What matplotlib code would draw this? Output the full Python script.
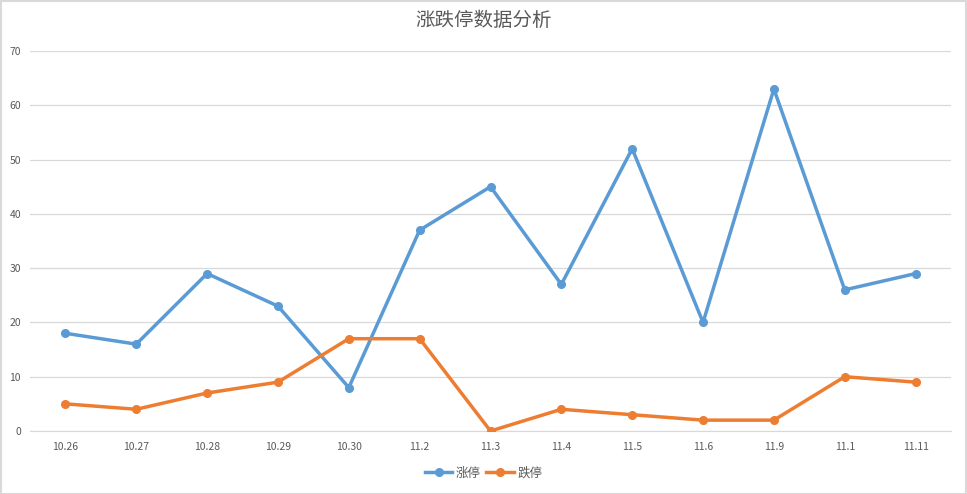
import matplotlib.pyplot as plt

plt.rcParams["font.family"] = ["Noto Sans CJK SC", "DejaVu Sans"]

# data
dates = ["10.26", "10.27", "10.28", "10.29", "10.30", "11.2", "11.3",
         "11.4", "11.5", "11.6", "11.9", "11.1", "11.11"]
limit_up = [18, 16, 29, 23, 8, 37, 45, 27, 52, 20, 63, 26, 29]
limit_down = [5, 4, 7, 9, 17, 17, 0, 4, 3, 2, 2, 10, 9]

W, H = 967, 494
fig = plt.figure(figsize=(W / 100, H / 100), dpi=100)
ax = fig.add_axes([30 / W, (H - 431) / H, (951 - 30) / W, (431 - 51) / H])

text_c = "#595959"
x = range(len(dates))
ax.plot(x, limit_up, color="#5B9BD5", lw=2.5, marker="o", ms=5.5, label="涨停")
ax.plot(x, limit_down, color="#ED7D31", lw=2.5, marker="o", ms=5.5, label="跌停")

ax.set_xlim(-0.5, len(dates) - 0.5)
ax.set_ylim(0, 70)
ax.set_yticks(range(0, 71, 10))
ax.set_xticks(list(x))
ax.set_xticklabels(dates)
ax.tick_params(axis="both", length=0, labelsize=7.5, colors=text_c)
ax.tick_params(axis="x", pad=8)
ax.tick_params(axis="y", pad=6.5)
ax.grid(axis="y", color="#D9D9D9", lw=0.9)
ax.set_axisbelow(True)
for s in ["top", "right", "left"]:
    ax.spines[s].set_visible(False)
ax.spines["bottom"].set_color("#D9D9D9")
ax.spines["bottom"].set_zorder(0)

fig.text(0.5, 1 - 21 / H, "涨跌停数据分析", ha="center", va="center",
         fontsize=14, color=text_c)
fig.legend(loc="center", bbox_to_anchor=(0.5, 1 - 473 / H), ncol=2, frameon=False,
           fontsize=9, labelcolor=text_c, handlelength=2.2, handletextpad=0.3,
           columnspacing=0.4)

# light border round the figure
fig.patches.append(plt.Rectangle((0.5 / W, 0.5 / H), 1 - 1.5 / W, 1 - 1.5 / H,
                                 transform=fig.transFigure, fill=False,
                                 ec="#D9D9D9", lw=1.5))

fig.savefig("out.png", dpi=100)
